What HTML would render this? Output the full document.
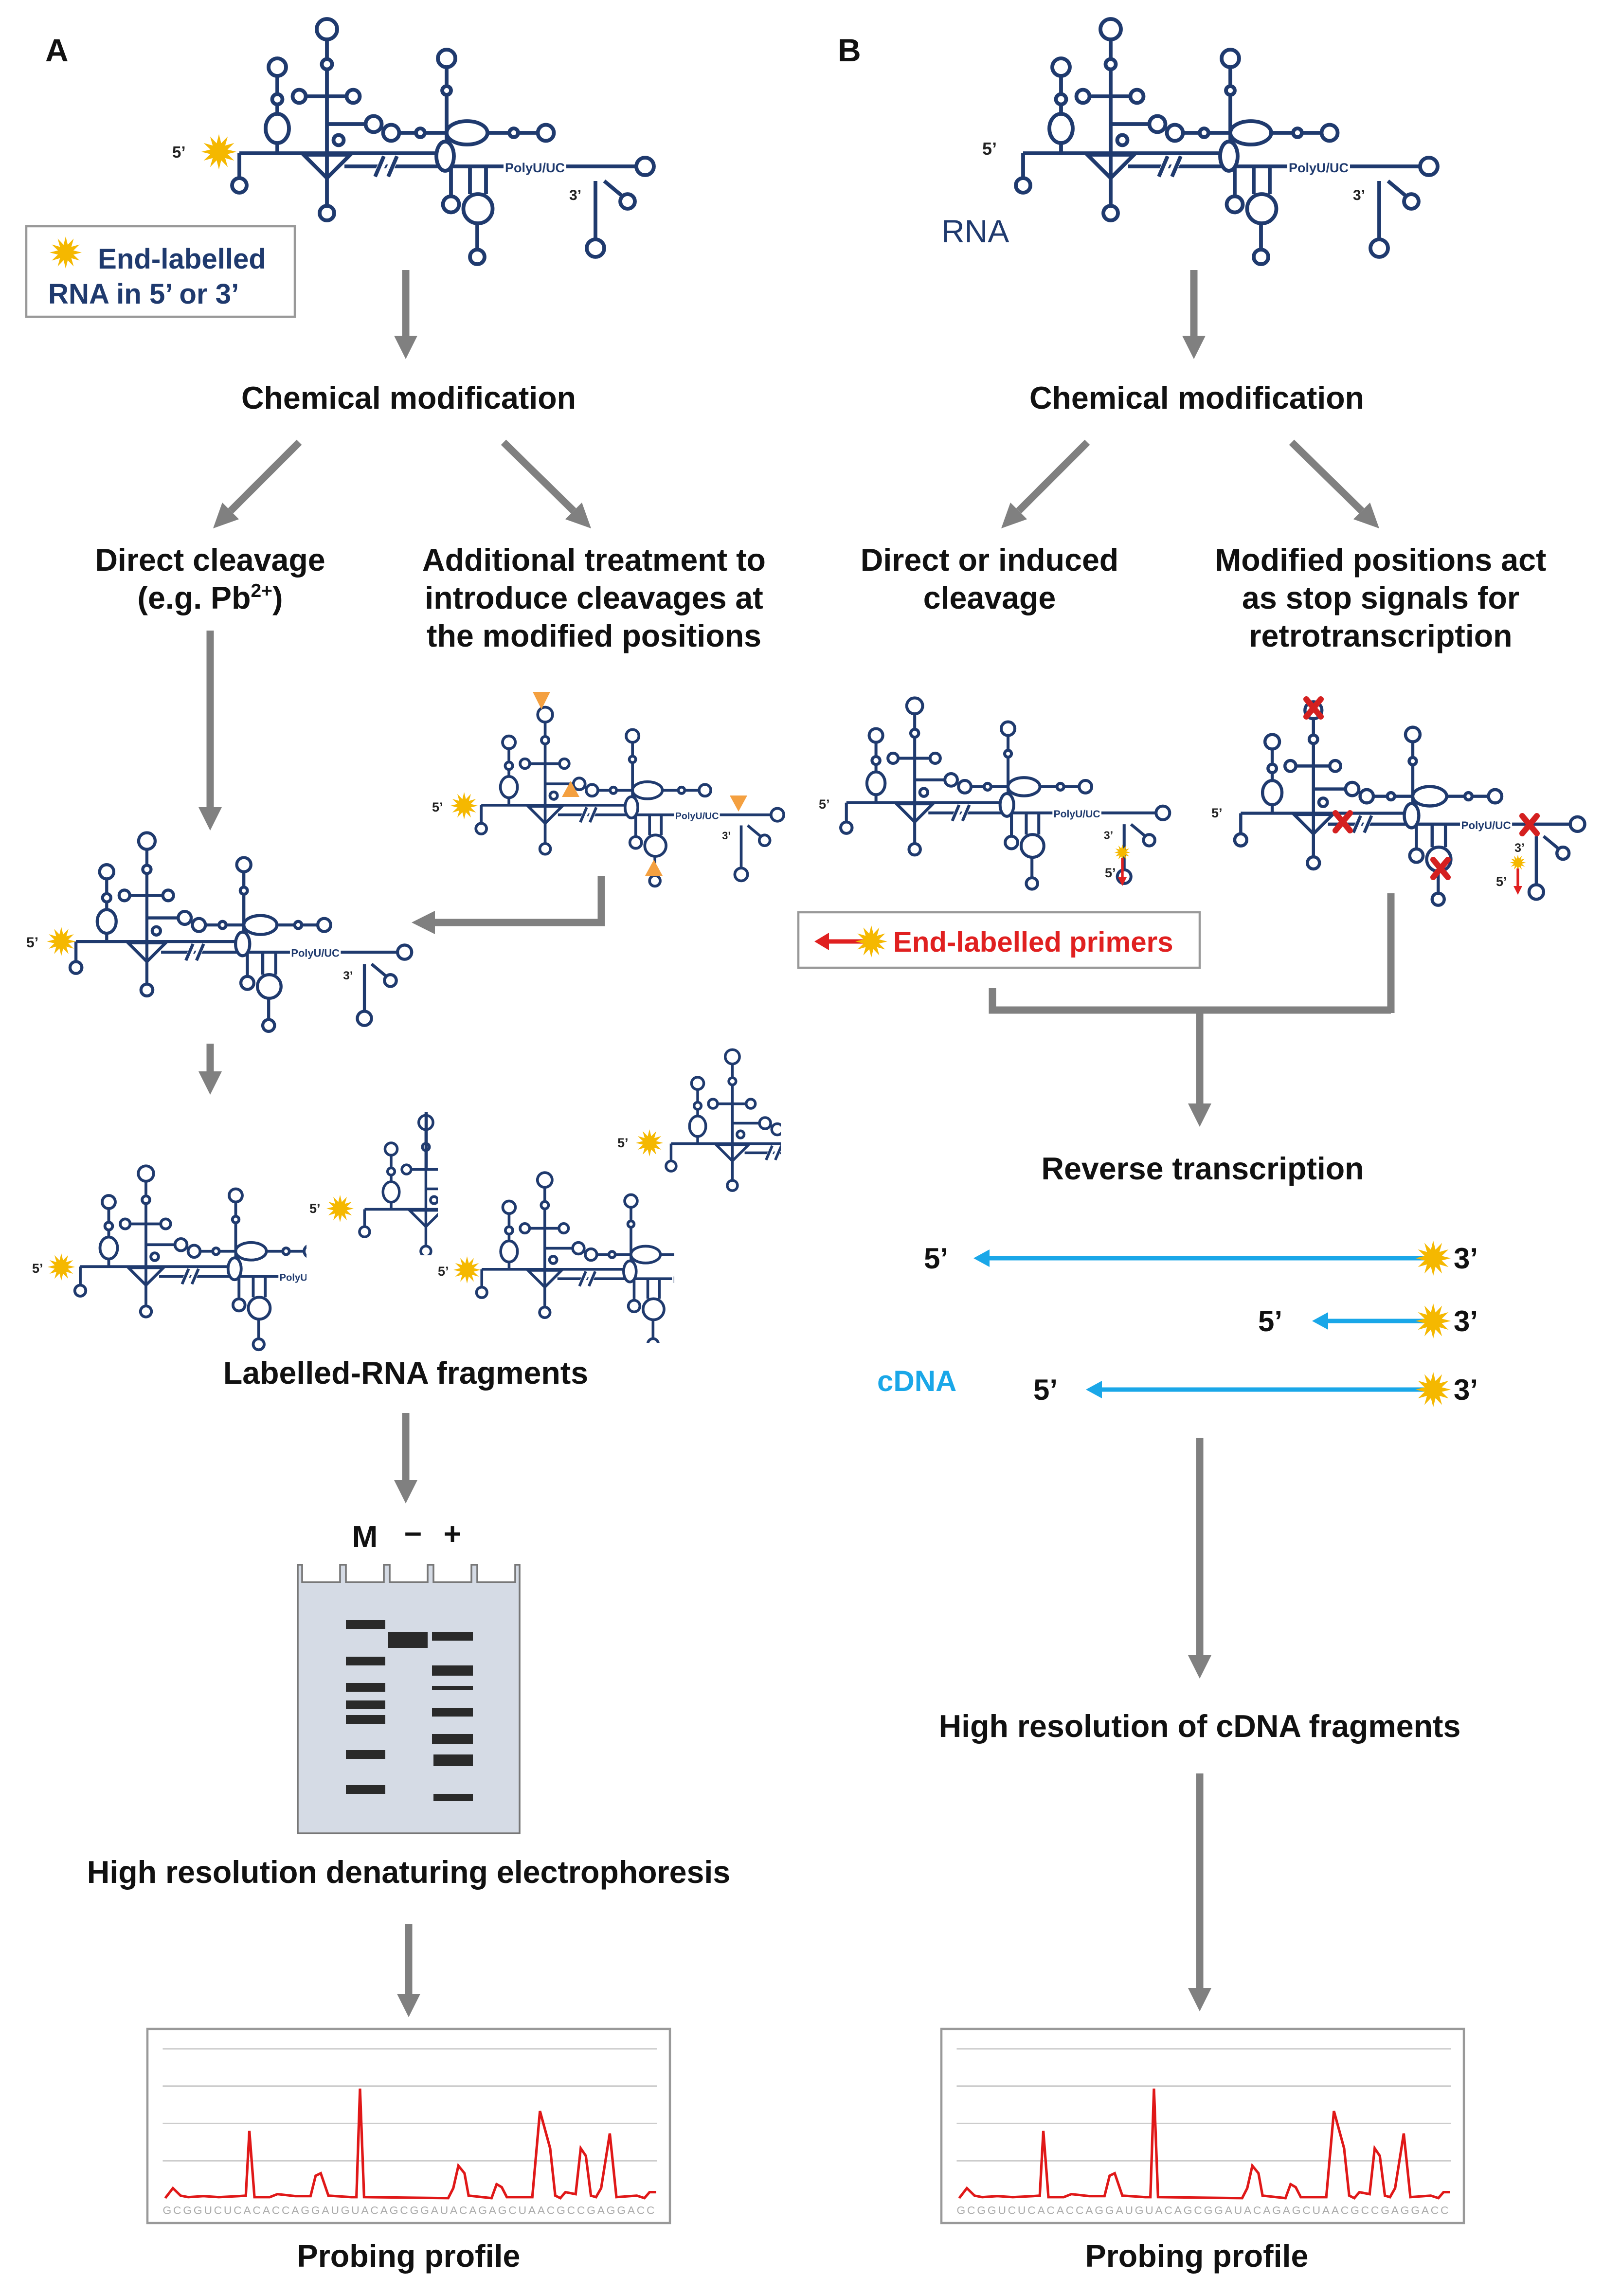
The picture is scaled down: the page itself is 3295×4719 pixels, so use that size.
<!DOCTYPE html>
<html><head><meta charset="utf-8"><style>
html,body{margin:0;padding:0;background:#fff;}
svg{display:block;}
text{font-family:"Liberation Sans",Arial,sans-serif;font-weight:bold;}
</style></head><body>
<svg width="3295" height="4719" viewBox="0 0 1098.33 1573" xmlns="http://www.w3.org/2000/svg">
<defs>
<g id="star"><polygon fill="#f5b800" points="11,0 5.31,1.42 9.53,5.5 3.89,3.89 5.5,9.53 1.42,5.31 0,11 -1.42,5.31 -5.5,9.53 -3.89,3.89 -9.53,5.5 -5.31,1.42 -11,0 -5.31,-1.42 -9.53,-5.5 -3.89,-3.89 -5.5,-9.53 -1.42,-5.31 0,-11 1.42,-5.31 5.5,-9.53 3.89,-3.89 9.53,-5.5 5.31,-1.42"/></g>
<g id="rna" fill="#fff" stroke="#1f3a6e" stroke-width="2.6">
<path d="M164,105 V122 M164,105 H303 M190,105 V52 M224,27 V141 M210,66 H238 M224,85 H251 M236,114 H303 M306,46 V104 M274,91 H368 M309,114 V134 M322,114 V133 M333,114 V133 M327,153 V171 M303,114 H345 M388,114 H436 M408,124 V164 M414,124 L426,134" fill="none"/>
<path d="M208,106 L240,106 L224,122 Z" fill="none"/>
<path d="M258,120 L264,108 M265,120 L271,108" fill="none" stroke="#fff" stroke-width="5"/>
<path d="M257,121 L263,107 M266,121 L272,107" fill="none"/>
<circle cx="164" cy="127" r="5"/>
<ellipse cx="190" cy="88" rx="8" ry="10"/>
<circle cx="190" cy="68" r="3.5"/>
<circle cx="190" cy="46" r="6"/>
<circle cx="224" cy="20" r="7"/>
<circle cx="224" cy="44" r="3.5"/>
<circle cx="224" cy="146" r="5"/>
<circle cx="205" cy="66" r="4.5"/>
<circle cx="242" cy="66" r="4.5"/>
<circle cx="256" cy="85" r="5.5"/>
<circle cx="232" cy="96" r="3.5"/>
<circle cx="306" cy="40" r="6"/>
<circle cx="306" cy="62" r="3"/>
<circle cx="268" cy="91" r="5.5"/>
<circle cx="374" cy="91" r="5.5"/>
<ellipse cx="320" cy="91" rx="14" ry="8"/>
<circle cx="288" cy="91" r="3"/>
<circle cx="352" cy="91" r="3"/>
<ellipse cx="305" cy="107" rx="6" ry="10"/>
<circle cx="309" cy="140" r="5.5"/>
<ellipse cx="327.5" cy="143" rx="10" ry="10"/>
<circle cx="327" cy="176" r="5"/>
<circle cx="442" cy="114" r="6"/>
<circle cx="408" cy="170" r="6"/>
<circle cx="430" cy="138" r="5"/>
<text x="346" y="118" font-size="9" fill="#1f3a6e" stroke="none">PolyU/UC</text>
<text x="390" y="137" font-size="10" fill="#222" stroke="none">3’</text>
</g>
<g id="prof">
<rect x="0" y="0" width="358" height="133" fill="#fff" stroke="#999" stroke-width="1.5"/>
<g transform="scale(0.3493,0.341) translate(-290,-1050)">
<path d="M320,1090 H1290 M320,1165 H1290 M320,1240 H1290 M320,1315 H1290" stroke="#ccc" stroke-width="3"/>
<polyline fill="none" stroke="#e01818" stroke-width="5" points="325,1390 340,1370 355,1385 370,1388 400,1386 430,1388 470,1386 483,1385 490,1255 500,1388 530,1388 545,1382 580,1386 610,1386 620,1345 630,1340 645,1385 690,1388 700,1388 707,1170 715,1388 880,1390 890,1370 900,1325 912,1340 920,1385 965,1390 975,1362 985,1368 995,1388 1045,1388 1060,1215 1080,1290 1090,1385 1100,1390 1110,1378 1130,1382 1140,1290 1150,1305 1160,1385 1170,1388 1180,1370 1197,1260 1210,1388 1250,1385 1265,1390 1275,1378 1288,1378"/>
<text x="320" y="1422" font-size="22" fill="#aaa" style="font-weight:normal" textLength="965" lengthAdjust="spacing">GCGGUCUCACACCAGGAUGUACAGCGGAUACAGAGCUAACGCCGAGGACC</text>
</g>
</g>
<clipPath id="cf1"><rect x="0" y="700" width="210" height="250"/></clipPath>
<clipPath id="cf2"><rect x="200" y="740" width="100" height="120"/></clipPath>
<clipPath id="cf3"><rect x="290" y="780" width="172" height="140"/></clipPath>
<clipPath id="cf4"><rect x="410" y="700" width="125" height="120"/></clipPath>
</defs>

<text x="31" y="42" font-size="22" fill="#111">A</text>
<text x="574" y="42" font-size="22" fill="#111">B</text>

<use href="#rna"/>
<text x="118" y="108" font-size="11" fill="#222">5’</text>
<use href="#star" transform="translate(150,104) scale(1.1)"/>

<rect x="18" y="155" width="184" height="62" fill="#fff" stroke="#999" stroke-width="1.5"/>
<use href="#star" transform="translate(45,173)"/>
<text x="67" y="184" font-size="19.4" fill="#1f3a6e">End-labelled</text>
<text x="33" y="208" font-size="19.4" fill="#1f3a6e">RNA in 5’ or 3’</text>

<g stroke="#808080" stroke-width="5" fill="#808080">
<line x1="278" y1="185" x2="278" y2="232"/><polygon stroke="none" points="270,230 286,230 278,246"/>
<line x1="205" y1="303" x2="158" y2="350"/><polygon stroke="none" points="163.7,355.7 152.3,344.3 146,362"/>
<line x1="345" y1="303" x2="393" y2="350"/><polygon stroke="none" points="387.3,355.7 398.7,344.3 405,362"/>
<line x1="144" y1="432" x2="144" y2="555"/><polygon stroke="none" points="136,553 152,553 144,569"/>
<polyline fill="none" points="412,600 412,632 296,632"/><polygon stroke="none" points="298,624 298,640 282,632"/>
<line x1="144" y1="715" x2="144" y2="736"/><polygon stroke="none" points="136,734 152,734 144,750"/>
<line x1="278" y1="968" x2="278" y2="1016"/><polygon stroke="none" points="270,1014 286,1014 278,1030"/>
<line x1="280" y1="1318" x2="280" y2="1368"/><polygon stroke="none" points="272,1366 288,1366 280,1382"/>
<line x1="818" y1="185" x2="818" y2="232"/><polygon stroke="none" points="810,230 826,230 818,246"/>
<line x1="745" y1="303" x2="698" y2="350"/><polygon stroke="none" points="703.7,355.7 692.3,344.3 686,362"/>
<line x1="885" y1="303" x2="933" y2="350"/><polygon stroke="none" points="927.3,355.7 938.7,344.3 945,362"/>
<polyline fill="none" points="680,677 680,692 953,692"/>
<line x1="953" y1="612" x2="953" y2="694"/>
<line x1="822" y1="692" x2="822" y2="758"/><polygon stroke="none" points="814,756 830,756 822,772"/>
<line x1="822" y1="985" x2="822" y2="1136"/><polygon stroke="none" points="814,1134 830,1134 822,1150"/>
<line x1="822" y1="1215" x2="822" y2="1364"/><polygon stroke="none" points="814,1362 830,1362 822,1378"/>
</g>

<g font-size="21.5" fill="#111" text-anchor="middle">
<text x="280" y="280">Chemical modification</text>
<text x="144" y="391">Direct cleavage</text>
<text x="144" y="417">(e.g. Pb<tspan font-size="13" dy="-8">2+</tspan><tspan dy="8">)</tspan></text>
<text x="407" y="391">Additional treatment to</text>
<text x="407" y="417">introduce cleavages at</text>
<text x="407" y="443">the modified positions</text>
<text x="278" y="948">Labelled-RNA fragments</text>
<text x="280" y="1290">High resolution denaturing electrophoresis</text>
<text x="280" y="1553">Probing profile</text>
<text x="820" y="280">Chemical modification</text>
<text x="678" y="391">Direct or induced</text>
<text x="678" y="417">cleavage</text>
<text x="946" y="391">Modified positions act</text>
<text x="946" y="417">as stop signals for</text>
<text x="946" y="443">retrotranscription</text>
<text x="824" y="808">Reverse transcription</text>
<text x="822" y="1190">High resolution of cDNA fragments</text>
<text x="820" y="1553">Probing profile</text>
</g>

<g transform="translate(210,475) scale(0.73)"><use href="#rna"/></g>
<text x="296" y="556" font-size="9" fill="#222">5’</text>
<use href="#star" transform="translate(318,552) scale(0.85)"/>
<g fill="#f4a040">
<polygon points="365,474 377,474 371,486"/>
<polygon points="385,546 397,546 391,535"/>
<polygon points="442,600 454,600 448,589"/>
<polygon points="500,545 512,545 506,556"/>
</g>

<g transform="translate(-80.8,560) scale(0.81)"><use href="#rna"/></g>
<text x="18" y="649" font-size="10" fill="#222">5’</text>
<use href="#star" transform="translate(42,645) scale(0.9)"/>

<g clip-path="url(#cf1)"><g transform="translate(-68,789) scale(0.75)"><use href="#rna"/></g></g>
<text x="22" y="872" font-size="9" fill="#222">5’</text>
<use href="#star" transform="translate(42,868) scale(0.85)"/>
<g clip-path="url(#cf2)"><g transform="translate(135,755) scale(0.7)"><use href="#rna"/></g></g>
<path d="M292,800 V762" stroke="#1f3a6e" stroke-width="2.2" fill="none"/>
<text x="212" y="831" font-size="9" fill="#222">5’</text>
<use href="#star" transform="translate(233,828) scale(0.85)"/>
<g clip-path="url(#cf3)"><g transform="translate(212,794) scale(0.72)"><use href="#rna"/></g></g>
<text x="300" y="874" font-size="9" fill="#222">5’</text>
<use href="#star" transform="translate(320,870) scale(0.85)"/>
<g clip-path="url(#cf4)"><g transform="translate(345,710) scale(0.7)"><use href="#rna"/></g></g>
<text x="423" y="786" font-size="9" fill="#222">5’</text>
<use href="#star" transform="translate(445,783) scale(0.85)"/>

<text x="250" y="1060" font-size="21" fill="#111" text-anchor="middle">M</text>
<text x="283" y="1058" font-size="21" fill="#111" text-anchor="middle">−</text>
<text x="310" y="1058" font-size="21" fill="#111" text-anchor="middle">+</text>
<path d="M204,1072 V1256 H356 V1072 L353,1072 V1084 H327 V1072 H323 V1084 H297 V1072 H293 V1084 H267 V1072 H263 V1084 H237 V1072 H233 V1084 H207 V1072 Z" fill="#d5dbe5" stroke="#777" stroke-width="1.2"/>
<g fill="#2a2a2a">
<rect x="237" y="1110" width="27" height="6"/>
<rect x="237" y="1135" width="27" height="6"/>
<rect x="237" y="1153" width="27" height="6"/>
<rect x="237" y="1165" width="27" height="6"/>
<rect x="237" y="1175" width="27" height="6"/>
<rect x="237" y="1199" width="27" height="6"/>
<rect x="237" y="1223" width="27" height="6"/>
<rect x="266" y="1118" width="27" height="11"/>
<rect x="296" y="1118" width="28" height="6"/>
<rect x="296" y="1141" width="28" height="7"/>
<rect x="296" y="1155" width="28" height="3"/>
<rect x="296" y="1170" width="28" height="6"/>
<rect x="296" y="1188" width="28" height="7"/>
<rect x="297" y="1202" width="27" height="8"/>
<rect x="297" y="1229" width="27" height="5"/>
</g>

<use href="#prof" transform="translate(101,1390)"/>
<use href="#prof" transform="translate(645,1390)"/>

<g transform="translate(537,0)"><use href="#rna"/></g>
<text x="673" y="106" font-size="12" fill="#222">5’</text>
<text x="645" y="166" font-size="22" fill="#1f3a6e" style="font-weight:normal">RNA</text>

<g transform="translate(452,468) scale(0.78)"><use href="#rna"/></g>
<text x="561" y="554" font-size="9" fill="#222">5’</text>
<text x="757" y="601" font-size="9" fill="#222">5’</text>
<use href="#star" transform="translate(769,584) scale(0.5)"/>
<path d="M769,588 V603" stroke="#e02020" stroke-width="1.8"/><polygon points="766,601 772,601 769,607" fill="#e02020"/>

<g transform="translate(714,470) scale(0.83)"><use href="#rna"/></g>
<text x="830" y="560" font-size="9" fill="#222">5’</text>
<text x="1025" y="607" font-size="9" fill="#222">5’</text>
<use href="#star" transform="translate(1040,591) scale(0.5)"/>
<path d="M1040,595 V609" stroke="#e02020" stroke-width="1.8"/><polygon points="1037,607 1043,607 1040,613" fill="#e02020"/>
<g stroke="#d42020" stroke-width="4" stroke-linecap="round">
<path d="M895,479 L905,491 M905,479 L895,491"/>
<path d="M915,557 L925,569 M925,557 L915,569"/>
<path d="M982,589 L992,601 M992,589 L982,601"/>
<path d="M1043,559 L1053,571 M1053,559 L1043,571"/>
</g>

<rect x="547" y="625" width="275" height="38" fill="#fff" stroke="#999" stroke-width="1.5"/>
<line x1="566" y1="645" x2="595" y2="645" stroke="#e02020" stroke-width="3"/>
<polygon points="568,639 568,651 558,645" fill="#e02020"/>
<use href="#star" transform="translate(597,645)"/>
<text x="612" y="652" font-size="19.4" fill="#e02020">End-labelled primers</text>

<g stroke="#1aa7e8" stroke-width="3" fill="#1aa7e8">
<line x1="676" y1="862" x2="978" y2="862"/><polygon stroke="none" points="678,856 678,868 667,862"/>
<line x1="908" y1="905" x2="978" y2="905"/><polygon stroke="none" points="910,899 910,911 899,905"/>
<line x1="753" y1="952" x2="978" y2="952"/><polygon stroke="none" points="755,946 755,958 744,952"/>
</g>
<use href="#star" transform="translate(982,862) scale(1.1)"/>
<use href="#star" transform="translate(982,905) scale(1.1)"/>
<use href="#star" transform="translate(982,952) scale(1.1)"/>
<g font-size="20" fill="#111">
<text x="633" y="869">5’</text><text x="996" y="869">3’</text>
<text x="862" y="912">5’</text><text x="996" y="912">3’</text>
<text x="708" y="959">5’</text><text x="996" y="959">3’</text>
</g>
<text x="601" y="953" font-size="20" fill="#1aa7e8">cDNA</text>
</svg>
</body></html>
